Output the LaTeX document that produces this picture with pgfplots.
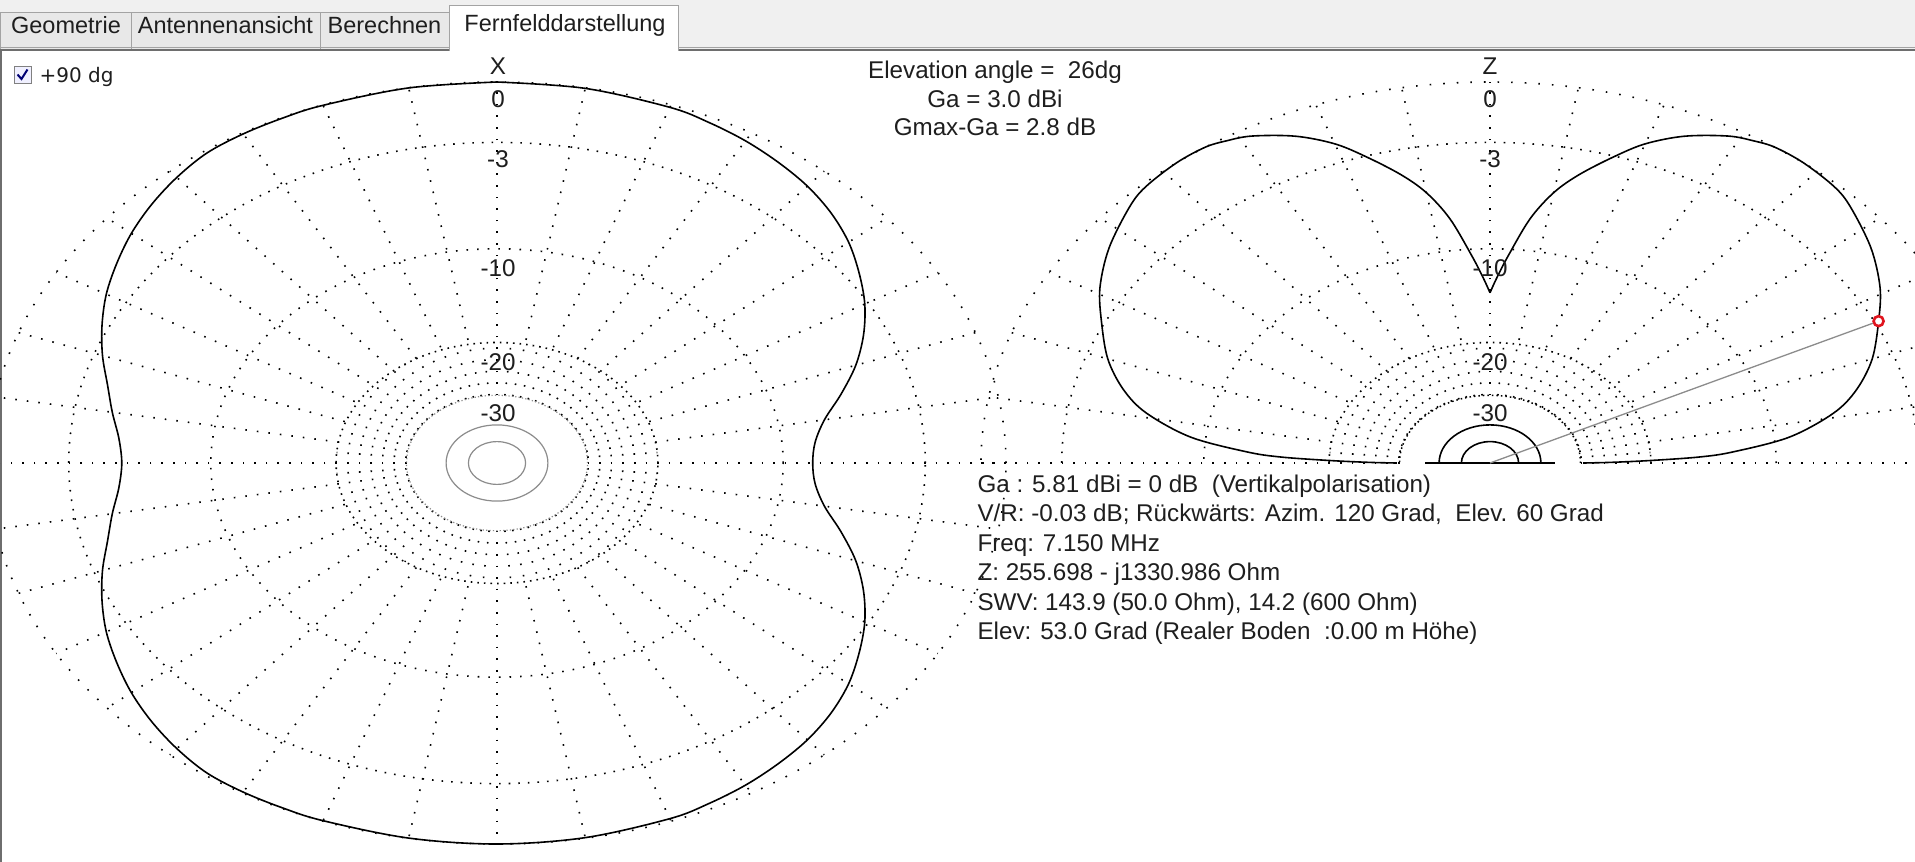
\documentclass[border=0pt]{standalone}
\usepackage{pgfplots}
\pgfplotsset{compat=1.18}
\usepackage{pgfplotstable}
\usepackage{fontspec}
\setmainfont{Liberation Sans}
\newfontfamily\dejavu{DejaVu Sans}
\newcommand\bigf{\fontsize{24.2pt}{29pt}\selectfont}
\newcommand\tabf{\fontsize{23.5pt}{28pt}\selectfont}
\definecolor{tabbg}{HTML}{F0F0F0}
\definecolor{tabfill}{HTML}{E8E8E8}
\definecolor{tabline}{HTML}{A3A3A3}
\definecolor{frame}{HTML}{6E6E6E}
\definecolor{mred}{HTML}{E0141E}
\definecolor{lgray}{HTML}{8C8C8C}
\definecolor{txt}{HTML}{1E1E1E}

% azimuth pattern (X plot): azimuth in degrees (clockwise from X), level in dB
\pgfplotstableread{
az db
0 0
10 -0.03
20 -0.12
25 -0.25
30 -0.42
35 -0.65
40 -0.92
45 -1.3
50 -1.8
55 -2.45
60 -3.15
65 -4.0
70 -5.0
75 -6.2
80 -7.4
85 -8.1
90 -8.3
95 -8.1
100 -7.4
105 -6.2
110 -5.0
115 -4.0
120 -3.15
125 -2.45
130 -1.8
135 -1.3
140 -0.92
145 -0.65
150 -0.42
155 -0.25
160 -0.12
170 -0.03
180 0
190 -0.01
200 -0.02
205 -0.03
210 -0.05
215 -0.12
220 -0.38
225 -0.72
230 -1.12
235 -1.6
240 -2.1
245 -2.7
250 -3.35
255 -4.05
260 -4.6
265 -5.1
270 -5.3
275 -5.1
280 -4.6
285 -4.05
290 -3.35
295 -2.7
300 -2.1
305 -1.6
310 -1.12
315 -0.72
320 -0.38
325 -0.12
330 -0.05
335 -0.03
340 -0.02
350 -0.01
360 0
}\azdata

% elevation pattern (Z plot): elevation in degrees, level in dB
\pgfplotstableread{
el db
0 -29.5
0.4 -25
1.2 -20
2.2 -15.4
3.5 -12.8
6.6 -9.1
11 -6.5
15 -5.1
20 -3.9
26 -2.84
31 -1.95
37 -1.13
43.5 -0.42
47 -0.15
52 0
56 0
58.5 -0.15
61.4 -0.4
66 -1.1
70 -2.0
73.2 -3.05
77 -4.4
80 -5.7
83 -7.6
86.3 -10.6
88.5 -12.6
90 -14
}\eldataR

\pgfplotstableread{
el db
90 -14
91.5 -12.6
93.7 -10.6
97 -7.6
100 -5.7
103 -4.4
106.8 -3.05
110 -2.0
114 -1.1
118.6 -0.4
121.5 -0.15
124 0
128 0
133 -0.15
136.5 -0.42
143 -1.13
149 -1.95
154 -2.84
160 -3.9
165 -5.1
169 -6.5
173.4 -9.1
176.5 -12.8
177.8 -15.4
178.8 -20
179.6 -25
180 -29.5
}\eldataL

\pgfplotstableread{
el db
26 -200
26 -2.84
}\ray

\pgfplotstableread{
el db
26 -2.84
}\marker

\tikzset{
  dotA/.style={black, line width=1.6pt, dash pattern=on 1.6pt off 12pt},
  dotB/.style={black, line width=1.6pt, dash pattern=on 1.6pt off 8pt},
  dotC/.style={black, line width=1.6pt, dash pattern=on 1.6pt off 9pt},
  dotD/.style={black, line width=1.6pt, dash pattern=on 1.6pt off 5pt},
  dotE/.style={lgray, line width=1.2pt, dash pattern=on 1.2pt off 2.2pt},
  dotF/.style={black, line width=1.5pt, dash pattern=on 1.5pt off 3pt},
  spk/.style={black, line width=1.6pt, dash pattern=on 1.6pt off 10pt},
}

\begin{document}
\begin{tikzpicture}
\begin{axis}[name=ax, x=1pt, y=1pt, xmin=0, xmax=1915, ymin=0, ymax=862,
  y dir=reverse, hide axis, clip=true]

% window background and tabs
\fill[white] (axis cs:0,0) rectangle (axis cs:1915,862);
\fill[tabbg] (axis cs:0,0) rectangle (axis cs:1915,49);
\filldraw[fill=tabfill, draw=tabline, line width=1pt] (axis cs:0.5,12) rectangle (axis cs:131,49);
\filldraw[fill=tabfill, draw=tabline, line width=1pt] (axis cs:131,12) rectangle (axis cs:320,49);
\filldraw[fill=tabfill, draw=tabline, line width=1pt] (axis cs:320,12) rectangle (axis cs:449,49);
\draw[tabline, line width=1pt] (axis cs:0,47.5) -- (axis cs:1915,47.5);
\draw[frame, line width=2pt] (axis cs:0,50) -- (axis cs:1915,50);
\draw[frame, line width=2pt] (axis cs:1,50) -- (axis cs:1,862);
\fill[white] (axis cs:449,5) rectangle (axis cs:678,51.5);
\draw[tabline, line width=1pt] (axis cs:449,51) -- (axis cs:449,5) -- (axis cs:678,5) -- (axis cs:678,51);
\node[font=\tabf, anchor=base, text=txt] at (axis cs:66,34) {Geometrie};
\node[font=\tabf, anchor=base, text=txt] at (axis cs:225.5,34) {Antennenansicht};
\node[font=\tabf, anchor=base, text=txt] at (axis cs:384.5,34) {Berechnen};
\node[font=\tabf, anchor=base, text=txt] at (axis cs:565,31) {Fernfelddarstellung};

% checkbox
\filldraw[fill=blue!6, draw=gray, line width=1pt] (axis cs:14,66) rectangle (axis cs:31,83);
\draw[blue!45!black, line width=2pt] (axis cs:17.5,74.5) -- (axis cs:21.5,79) -- (axis cs:27.5,69.5);
\node[font=\dejavu\fontsize{20pt}{24pt}\selectfont, anchor=base west, text=txt] at (axis cs:36,82) {+90 dg};

% ---------- left (azimuth) grid ----------
\pgfplotsinvokeforeach{0,10,...,350}{
  \draw[spk] (axis cs:{497+90.5*sin(#1)},{463-67.7*cos(#1)}) -- (axis cs:{497+509*sin(#1)},{463-381*cos(#1)});
}
\pgfplotsinvokeforeach{5,15,...,355}{
  \draw[spk] (axis cs:{497+90.5*sin(#1)},{463-67.7*cos(#1)}) -- (axis cs:{497+160.9*sin(#1)},{463-120.5*cos(#1)});
}
\draw[dotA] (axis cs:497,463) ellipse [x radius=509pt, y radius=381pt];
\draw[dotB] (axis cs:497,463) ellipse [x radius=428.3pt, y radius=320.6pt];
\draw[dotC] (axis cs:497,463) ellipse [x radius=286.2pt, y radius=214.2pt];
\draw[dotD] (axis cs:497,463) ellipse [x radius=160.9pt, y radius=120.5pt];
\draw[dotE] (axis cs:497,463) ellipse [x radius=90.5pt, y radius=67.7pt];
\draw[lgray, line width=1.2pt] (axis cs:497,463) ellipse [x radius=50.9pt, y radius=38.1pt];
\draw[lgray, line width=1.2pt] (axis cs:497,463) ellipse [x radius=28.6pt, y radius=21.4pt];

% ---------- right (elevation) grid ----------
\pgfplotsinvokeforeach{0,10,...,180}{
  \draw[spk] (axis cs:{1490+90.5*cos(#1)},{463-67.7*sin(#1)}) -- (axis cs:{1490+509*cos(#1)},{463-381*sin(#1)});
}
\pgfplotsinvokeforeach{5,15,...,175}{
  \draw[spk] (axis cs:{1490+90.5*cos(#1)},{463-67.7*sin(#1)}) -- (axis cs:{1490+160.9*cos(#1)},{463-120.5*sin(#1)});
}
\draw[dotA] (axis cs:1999,463) arc[start angle=0, end angle=180, x radius=509pt, y radius=381pt];
\draw[dotB] (axis cs:1918.3,463) arc[start angle=0, end angle=180, x radius=428.3pt, y radius=320.6pt];
\draw[dotC] (axis cs:1776.2,463) arc[start angle=0, end angle=180, x radius=286.2pt, y radius=214.2pt];
\draw[dotD] (axis cs:1650.9,463) arc[start angle=0, end angle=180, x radius=160.9pt, y radius=120.5pt];
\draw[dotF] (axis cs:1580.5,463) arc[start angle=0, end angle=180, x radius=90.5pt, y radius=67.7pt];
\draw[black, line width=1.6pt] (axis cs:1540.9,463) arc[start angle=0, end angle=180, x radius=50.9pt, y radius=38.1pt];
\draw[black, line width=1.6pt] (axis cs:1518.6,463) arc[start angle=0, end angle=180, x radius=28.6pt, y radius=21.4pt];

% ---------- patterns ----------
\addplot[black, line width=1.6pt, no marks, smooth, tension=0.55] table[
  x expr={497+509*pow(10,\thisrow{db}/40)*sin(\thisrow{az})},
  y expr={463-381*pow(10,\thisrow{db}/40)*cos(\thisrow{az})}] {\azdata};

\addplot[black, line width=1.6pt, no marks, smooth, tension=0.55] table[
  x expr={1490+509*pow(10,\thisrow{db}/40)*cos(\thisrow{el})},
  y expr={463-381*pow(10,\thisrow{db}/40)*sin(\thisrow{el})}] {\eldataR};
\addplot[black, line width=1.6pt, no marks, smooth, tension=0.55] table[
  x expr={1490+509*pow(10,\thisrow{db}/40)*cos(\thisrow{el})},
  y expr={463-381*pow(10,\thisrow{db}/40)*sin(\thisrow{el})}] {\eldataL};
\addplot[black, line width=1.6pt, no marks] coordinates {(1425,463) (1555,463)};

\addplot[lgray, line width=1.3pt, no marks] table[
  x expr={1490+509*pow(10,\thisrow{db}/40)*cos(\thisrow{el})},
  y expr={463-381*pow(10,\thisrow{db}/40)*sin(\thisrow{el})}] {\ray};
\addplot[only marks, mark=*, mark size=5pt, mark options={draw=mred, fill=white, line width=2.6pt}] table[
  x expr={1490+509*pow(10,\thisrow{db}/40)*cos(\thisrow{el})},
  y expr={463-381*pow(10,\thisrow{db}/40)*sin(\thisrow{el})}] {\marker};

% ---------- labels ----------
\node[font=\bigf, anchor=base, text=txt] at (axis cs:498,74) {X};
\node[font=\bigf, anchor=base, text=txt] at (axis cs:498,107) {0};
\node[font=\bigf, anchor=base, text=txt] at (axis cs:498,167) {-3};
\node[font=\bigf, anchor=base, text=txt] at (axis cs:498,276) {-10};
\node[font=\bigf, anchor=base, text=txt] at (axis cs:498,370) {-20};
\node[font=\bigf, anchor=base, text=txt] at (axis cs:498,421) {-30};

\node[font=\bigf, anchor=base, text=txt] at (axis cs:1490,74) {Z};
\node[font=\bigf, anchor=base, text=txt] at (axis cs:1490,107) {0};
\node[font=\bigf, anchor=base, text=txt] at (axis cs:1490,167) {-3};
\node[font=\bigf, anchor=base, text=txt] at (axis cs:1490,276) {-10};
\node[font=\bigf, anchor=base, text=txt] at (axis cs:1490,370) {-20};
\node[font=\bigf, anchor=base, text=txt] at (axis cs:1490,421) {-30};

\node[font=\bigf, anchor=base, text=txt] at (axis cs:995,78) {Elevation angle =~~26dg};
\node[font=\bigf, anchor=base, text=txt] at (axis cs:995,107) {Ga = 3.0 dBi};
\node[font=\bigf, anchor=base, text=txt] at (axis cs:995,135) {Gmax-Ga = 2.8 dB};

\node[font=\bigf, anchor=base west, text=txt] at (axis cs:974,492) {Ga : 5.81 dBi = 0 dB~~(Vertikalpolarisation)};
\node[font=\bigf, anchor=base west, text=txt] at (axis cs:974,521) {V/R: -0.03 dB; Rückwärts: Azim. 120 Grad,~~Elev. 60 Grad};
\node[font=\bigf, anchor=base west, text=txt] at (axis cs:974,551) {Freq: 7.150 MHz};
\node[font=\bigf, anchor=base west, text=txt] at (axis cs:974,580) {Z: 255.698 - j1330.986 Ohm};
\node[font=\bigf, anchor=base west, text=txt] at (axis cs:974,610) {SWV: 143.9 (50.0 Ohm), 14.2 (600 Ohm)};
\node[font=\bigf, anchor=base west, text=txt] at (axis cs:974,639) {Elev: 53.0 Grad (Realer Boden~~:0.00 m Höhe)};
\end{axis}
\pgfresetboundingbox
\path (ax.south west) rectangle (ax.north east);
\end{tikzpicture}
\end{document}
